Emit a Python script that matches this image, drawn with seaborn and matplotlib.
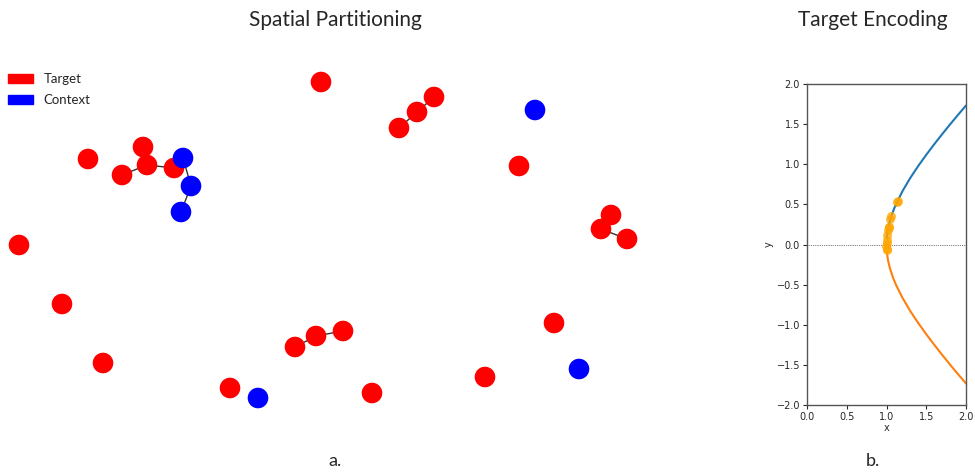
import numpy as np
import pandas as pd
import seaborn as sns
import matplotlib.pyplot as plt
from matplotlib.patches import Patch

# node positions (left panel, pixel-like units, y grows downward)
node_x = [321, 434, 417, 399, 535, 88, 143, 147, 122, 174, 183, 191, 181,
          519, 611, 601, 627, 19, 62, 554, 343, 316, 295, 103, 579, 485,
          230, 258, 372]
node_y = [82, 97, 112, 128, 110, 159, 147, 165, 175, 168, 158, 186, 212,
          166, 215, 229, 239, 245, 304, 323, 331, 336, 347, 363, 369, 377,
          388, 398, 393]
node_kind = ["Target", "Target", "Target", "Target", "Context", "Target", "Target",
             "Target", "Target", "Target", "Context", "Context", "Context",
             "Target", "Target", "Target", "Target", "Target", "Target", "Target",
             "Target", "Target", "Target", "Target", "Context", "Target",
             "Target", "Context", "Target"]
edges = [(1, 2), (2, 3), (8, 7), (7, 9), (6, 7), (10, 11), (11, 12),
         (15, 16), (14, 15), (20, 21), (21, 22)]

# right panel curves
blue_x = [1.003, 1.01, 1.03, 1.06, 1.1, 1.2, 1.3, 1.4, 1.5, 1.6, 1.7, 1.8, 1.9, 2.0]
blue_y = [0.077, 0.142, 0.247, 0.352, 0.458, 0.663, 0.831, 0.980, 1.118, 1.249, 1.375, 1.497, 1.616, 1.732]
orange_x = [1.0, 1.005, 1.02, 1.04, 1.08, 1.12, 1.2, 1.3, 1.4, 1.5, 1.6, 1.7, 1.8, 1.9, 2.0]
orange_y = [0.0, -0.1, -0.201, -0.286, -0.408, -0.504, -0.663, -0.831, -0.980, -1.118,
            -1.249, -1.375, -1.497, -1.616, -1.732]
pts_x = [1.13, 1.15, 1.06, 1.05, 1.03, 1.02, 1.01, 1.00, 1.00, 0.99, 1.00, 1.00, 1.03]
pts_y = [0.53, 0.54, 0.35, 0.32, 0.22, 0.18, 0.12, 0.05, 0.02, -0.02, -0.05, -0.07, 0.22]

sns.set_style("white")
plt.rcParams['font.family'] = ['Lato', 'DejaVu Sans']

fig = plt.figure(figsize=(9.75, 4.72), dpi=100)

# left panel
ax = fig.add_axes([0, 0, 0.7, 1])
ax.set_xlim(0, 682.5)
ax.set_ylim(472, 0)
ax.axis("off")
for a, b in edges:
    ax.plot([node_x[a], node_x[b]], [node_y[a], node_y[b]], color="#333333", lw=1, zorder=1)
nodes = pd.DataFrame({"x": node_x, "y": node_y, "kind": node_kind})
sns.scatterplot(data=nodes, x="x", y="y", hue="kind",
                palette={"Target": "#ff0000", "Context": "#0000ff"},
                s=220, linewidth=0, legend=False, ax=ax, zorder=2)
handles = [Patch(color="#ff0000", label="Target"), Patch(color="#0000ff", label="Context")]
fig.legend(handles=handles, loc="upper left", bbox_to_anchor=(-0.004, 0.871),
           frameon=False, fontsize=9.5, handlelength=1.9, handleheight=0.7,
           labelspacing=0.7, handletextpad=0.8)

fig.text(335 / 975, 1 - 20 / 472, "Spatial Partitioning", ha="center", va="center", fontsize=15)
fig.text(335 / 975, 1 - 461 / 472, "a.", ha="center", va="center", fontsize=13)
fig.text(873 / 975, 1 - 20 / 472, "Target Encoding", ha="center", va="center", fontsize=15)
fig.text(873 / 975, 1 - 461 / 472, "b.", ha="center", va="center", fontsize=13)

# right panel
ax2 = fig.add_axes([807 / 975, 1 - 405 / 472, 159 / 975, 321 / 472])
sns.lineplot(x=blue_x, y=blue_y, sort=False, color="#1f77b4", lw=1.5, ax=ax2)
sns.lineplot(x=orange_x, y=orange_y, sort=False, color="#ff7f0e", lw=1.5, ax=ax2)
sns.scatterplot(x=pts_x, y=pts_y, color="orange", s=42, alpha=0.75, linewidth=0, ax=ax2, zorder=3)
ax2.axhline(0, color="black", lw=0.5, ls=":")
ax2.set_xlim(0, 2)
ax2.set_ylim(-2, 2)
ax2.set_xticks([0, 0.5, 1.0, 1.5, 2.0])
ax2.set_yticks([-2.0, -1.5, -1.0, -0.5, 0.0, 0.5, 1.0, 1.5, 2.0])
ax2.tick_params(labelsize=7, length=3, width=0.8, left=True, bottom=True, pad=2)
for lab in ax2.get_xticklabels() + ax2.get_yticklabels():
    lab.set_family("DejaVu Sans")
ax2.set_xlabel("x", fontsize=7, family="DejaVu Sans", labelpad=1)
ax2.set_ylabel("y", fontsize=7, family="DejaVu Sans", labelpad=2)
for sp in ax2.spines.values():
    sp.set_color("#555555")
    sp.set_linewidth(1.0)

fig.savefig("out.png", dpi=100)
